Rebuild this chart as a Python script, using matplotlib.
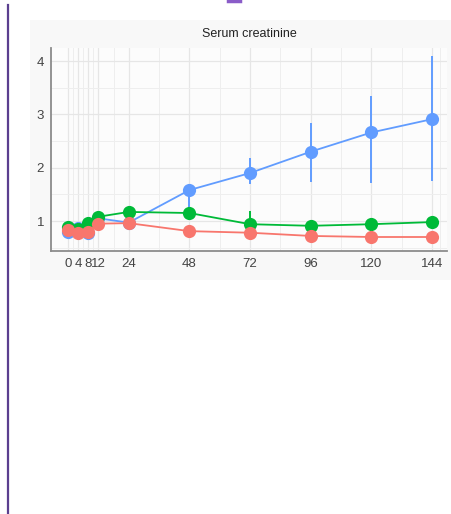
import numpy as np
import matplotlib.pyplot as plt
from matplotlib.patches import Rectangle
from matplotlib.lines import Line2D

plt.rcParams['font.family'] = ['Liberation Sans', 'DejaVu Sans']

# sampling times (h)
hours = [0, 4, 8, 12, 24, 48, 72, 96, 120, 144]
tick_labels = ['0', '4', '8', '12', '24', '48', '72', '96', '120', '144']

# serum creatinine per group: mean, lower, upper
blue_mean = [0.79, 0.87, 0.78, 1.05, 0.97, 1.58, 1.90, 2.30, 2.66, 2.91]
blue_lo = [0.72, 0.80, 0.65, 0.98, 0.90, 1.25, 1.69, 1.73, 1.71, 1.75]
blue_hi = [0.88, 0.95, 0.90, 1.12, 1.05, 1.62, 2.18, 2.84, 3.35, 4.10]

green_mean = [0.88, 0.85, 0.96, 1.08, 1.17, 1.15, 0.94, 0.91, 0.94, 0.98]
green_lo = [0.80, 0.80, 0.88, 1.00, 1.10, 1.10, 0.88, 0.88, 0.90, 0.95]
green_hi = [1.00, 0.90, 1.08, 1.15, 1.22, 1.20, 1.19, 0.95, 0.98, 1.02]

red_mean = [0.83, 0.78, 0.80, 0.95, 0.96, 0.81, 0.78, 0.72, 0.70, 0.70]
red_lo = [0.78, 0.75, 0.76, 0.88, 0.85, 0.78, 0.75, 0.70, 0.68, 0.68]
red_hi = [0.88, 0.82, 0.85, 1.02, 1.06, 0.85, 0.82, 0.75, 0.72, 0.72]

series = [
    (blue_mean, blue_lo, blue_hi, '#619CFF'),
    (green_mean, green_lo, green_hi, '#00BA38'),
    (red_mean, red_lo, red_hi, '#F8766D'),
]

fig = plt.figure(figsize=(4.52, 5.14), dpi=100)

# panel backdrop and page rule
fig.patches.append(Rectangle((30 / 452, 1 - 280 / 514), 422 / 452, 260 / 514,
                             transform=fig.transFigure, facecolor='#f8f8f8',
                             edgecolor='none', zorder=-5))
fig.add_artist(Line2D([8 / 452, 8 / 452], [0, 1 - 5 / 514], transform=fig.transFigure,
                      color='#5b3f8f', lw=1.6))
fig.add_artist(Line2D([228 / 452, 240 / 452], [1 - 1 / 514, 1 - 1 / 514],
                      transform=fig.transFigure, color='#8a5cc8', lw=2.5))

ax = fig.add_axes([51 / 452, 1 - 251 / 514, 396 / 452, 203 / 514], zorder=2)
ax.set_facecolor('#fcfcfc')

for mean, lo, hi, col in series:
    ax.vlines(hours, lo, hi, color=col, lw=1.4, zorder=3)
    ax.plot(hours, mean, color=col, lw=1.3, marker='o', ms=9.5,
            markeredgewidth=0, zorder=4)

ax.set_xlim(-6.73, 149.9)
ax.set_ylim(0.4375, 4.244)

ax.set_xticks(hours)
ax.set_xticklabels(tick_labels)
ax.set_xticks([2, 6, 10, 18, 36, 60, 84, 108, 132, 147], minor=True)
ax.set_yticks([1, 2, 3, 4])
ax.set_yticks([0.5, 1.5, 2.5, 3.5], minor=True)
ax.grid(which='major', color='#e6e6e6', lw=0.9)
ax.grid(which='minor', color='#eeeeee', lw=0.7)
ax.set_axisbelow(True)

ax.tick_params(which='both', length=0, labelsize=9.5, colors='#444444', pad=5)
for s in ['top', 'right']:
    ax.spines[s].set_visible(False)
for s in ['left', 'bottom']:
    ax.spines[s].set_color('#8c8c8c')
    ax.spines[s].set_linewidth(1.3)

ax.set_title('Serum creatinine', fontsize=9, color='#222222', pad=8)

fig.savefig('out.png', dpi=100)
